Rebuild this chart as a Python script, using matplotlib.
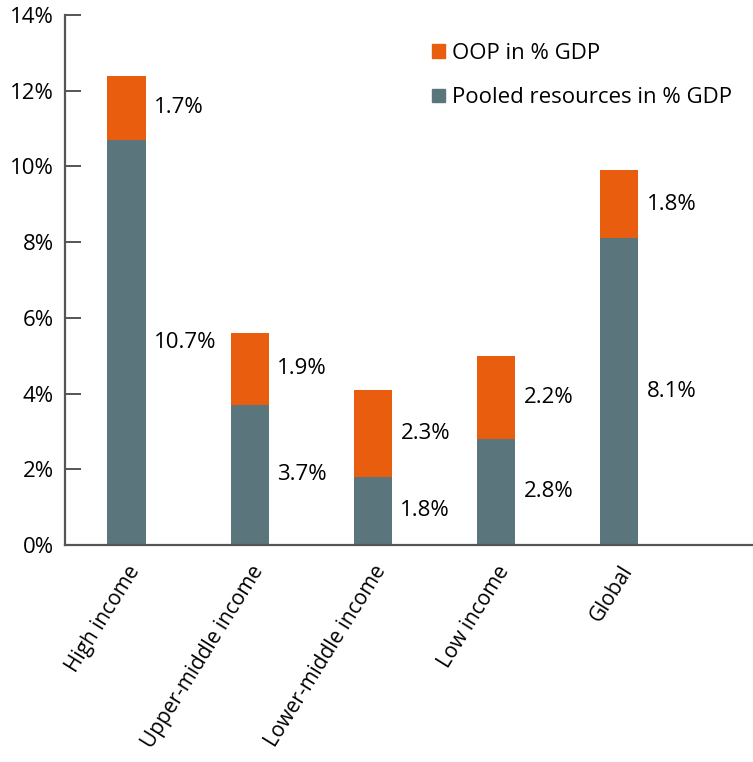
import matplotlib.pyplot as plt
from matplotlib.patches import Patch
from matplotlib.ticker import FuncFormatter

plt.rcParams['font.family'] = ['Open Sans', 'DejaVu Sans']

# health spending by income group, % of GDP
groups = ['High income', 'Upper-middle income', 'Lower-middle income', 'Low income', 'Global']
pooled = [10.7, 3.7, 1.8, 2.8, 8.1]
oop = [1.7, 1.9, 2.3, 2.2, 1.8]

c_pool = '#5a757c'
c_oop = '#e85d0e'
axis_col = '#555555'
fs = 16

fig = plt.figure(figsize=(7.53, 7.62), dpi=100)
ax = fig.add_axes([0.0863, 0.2848, 0.9137, 0.6955])

x = range(len(groups))
w = 0.31
ax.bar(x, pooled, width=w, color=c_pool)
ax.bar(x, oop, width=w, bottom=pooled, color=c_oop)

# value labels to the right of each segment
for i in x:
    ax.text(i + w / 2 + 0.07, pooled[i] / 2, f'{pooled[i]:.1f}%',
            va='center', ha='left', fontsize=fs)
    ax.text(i + w / 2 + 0.07, pooled[i] + oop[i] / 2, f'{oop[i]:.1f}%',
            va='center', ha='left', fontsize=fs)

ax.set_xlim(-0.5, 5.09)
ax.set_ylim(0, 14)
ax.set_yticks(range(0, 15, 2))
ax.yaxis.set_major_formatter(FuncFormatter(lambda v, p: f'{v:.0f}%'))
ax.tick_params(axis='y', direction='in', length=11.5, width=1.4, color=axis_col,
               pad=8, labelsize=fs)
ax.set_xticks(list(x))
ax.set_xticklabels(groups, rotation=58, ha='right', rotation_mode='anchor', fontsize=15)
ax.tick_params(axis='x', length=0, pad=12)

for s in ['top', 'right']:
    ax.spines[s].set_visible(False)
for s in ['left', 'bottom']:
    ax.spines[s].set_color(axis_col)
    ax.spines[s].set_linewidth(1.6)

handles = [Patch(color=c_oop, label='OOP in % GDP'),
           Patch(color=c_pool, label='Pooled resources in % GDP')]
ax.legend(handles=handles, loc='upper left', bbox_to_anchor=(0.505, 0.985),
          frameon=False, fontsize=fs, handlelength=0.55, handleheight=0.55,
          handletextpad=0.35, labelspacing=1.05)

fig.savefig('out.png', dpi=100)
